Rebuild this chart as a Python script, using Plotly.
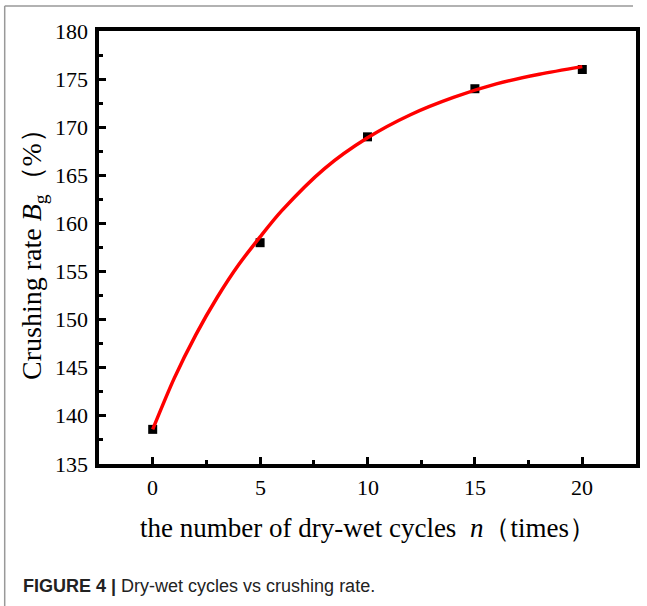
import plotly.graph_objects as go

# measured points
cycles = [0, 5, 10, 15, 20]
crushing_rate = [138.6, 158.0, 169.0, 174.0, 176.0]

# fitted curve
fit_x = [0, 1, 2, 3, 4, 5, 6, 8, 10, 12, 14, 16, 18, 20]
fit_y = [138.6, 143.9, 148.4, 152.3, 155.7, 158.6, 161.3, 165.7, 168.9,
         171.3, 173.1, 174.5, 175.5, 176.3]

x_ticks = [0, 5, 10, 15, 20]
x_minor = [2.5, 7.5, 12.5, 17.5]
y_ticks = [135, 140, 145, 150, 155, 160, 165, 170, 175, 180]
y_minor = [137.5, 142.5, 147.5, 152.5, 157.5, 162.5, 167.5, 172.5, 177.5]

SERIF = "Liberation Serif"
SANS = "Liberation Sans"

# plot area in page pixels (body margin is removed below)
L, R, T, B = 99, 640, 31, 464
W, H = 647, 606
X_RANGE = [-2.5, 22.5]
Y_RANGE = [135, 180]


def px_x(p):
    return (p - L) / (R - L)


def px_y(p):
    return (B - p) / (B - T)


fig = go.Figure()
fig.add_trace(go.Scatter(
    x=cycles, y=crushing_rate, mode="markers",
    marker=dict(symbol="square", size=9, color="black"),
))
fig.add_trace(go.Scatter(
    x=fit_x, y=fit_y, mode="lines",
    line=dict(color="#ff0000", width=3.5, shape="spline", smoothing=0.8),
    hoverinfo="skip",
))
# empty trace so the minor-tick axes get drawn
fig.add_trace(go.Scatter(x=[None], y=[None], xaxis="x2", yaxis="y2", hoverinfo="skip"))

major = dict(
    showline=True, linecolor="black", linewidth=3.5, mirror=True,
    ticks="inside", ticklen=7, tickwidth=3, tickcolor="black",
    showgrid=False, zeroline=False, tickmode="array", showticklabels=False,
)
minor = dict(
    showline=False, ticks="inside", ticklen=4, tickwidth=3, tickcolor="black",
    showgrid=False, zeroline=False, tickmode="array", showticklabels=False,
)

fig.update_layout(
    xaxis=dict(range=X_RANGE, tickvals=x_ticks, **major),
    yaxis=dict(range=Y_RANGE, tickvals=y_ticks, **major),
    xaxis2=dict(range=X_RANGE, tickvals=x_minor, overlaying="x", anchor="y2", **minor),
    yaxis2=dict(range=Y_RANGE, tickvals=y_minor, overlaying="y", anchor="x2", **minor),
)

# tick labels as serif text placed on the axis scales
tick_font = dict(family=SERIF, size=22, color="black")
for v in x_ticks:
    fig.add_annotation(text=str(v), xref="x", yref="paper", x=v, y=px_y(487),
                       xanchor="center", yanchor="middle", showarrow=False, font=tick_font)
for v in y_ticks:
    fig.add_annotation(text=str(v), xref="paper", yref="y", x=px_x(90), y=v,
                       xanchor="right", yanchor="middle", showarrow=False, font=tick_font)

fig.add_annotation(
    text="Crushing rate <i>B</i><sub>g</sub>\uff08%\uff09",
    xref="paper", yref="paper", x=px_x(33), y=0.5, textangle=-90,
    xanchor="center", yanchor="middle", showarrow=False,
    font=dict(family=SERIF, size=28, color="black"),
)
fig.add_annotation(
    text="the number of dry-wet cycles  <i>n</i>\uff08times\uff09",
    xref="paper", yref="paper", x=0.5, y=px_y(528),
    xanchor="center", yanchor="middle", showarrow=False,
    font=dict(family=SERIF, size=27, color="black"),
)
fig.add_annotation(
    text="<b>FIGURE 4</b> <b>|</b> Dry-wet cycles vs crushing rate.",
    xref="paper", yref="paper", x=px_x(20), y=px_y(586),
    xanchor="left", yanchor="middle", showarrow=False,
    font=dict(family=SANS, size=18, color="#222222"),
)

# thin grey frame on the left and top of the figure panel
fig.add_shape(type="line", xref="paper", yref="paper",
              x0=px_x(4), x1=px_x(4), y0=px_y(6), y1=px_y(606),
              line=dict(color="#999999", width=1.5))
fig.add_shape(type="line", xref="paper", yref="paper",
              x0=px_x(4), x1=px_x(637), y0=px_y(6), y1=px_y(6),
              line=dict(color="#999999", width=1.5))

fig.update_layout(
    width=W, height=H,
    margin=dict(l=L, r=W - R, t=T, b=H - B),
    font=dict(family=SERIF, color="black"),
    plot_bgcolor="white", paper_bgcolor="white",
    showlegend=False,
)

fig.write_html("out.html", config={"displayModeBar": False},
               post_script="document.body.style.margin='0';")
